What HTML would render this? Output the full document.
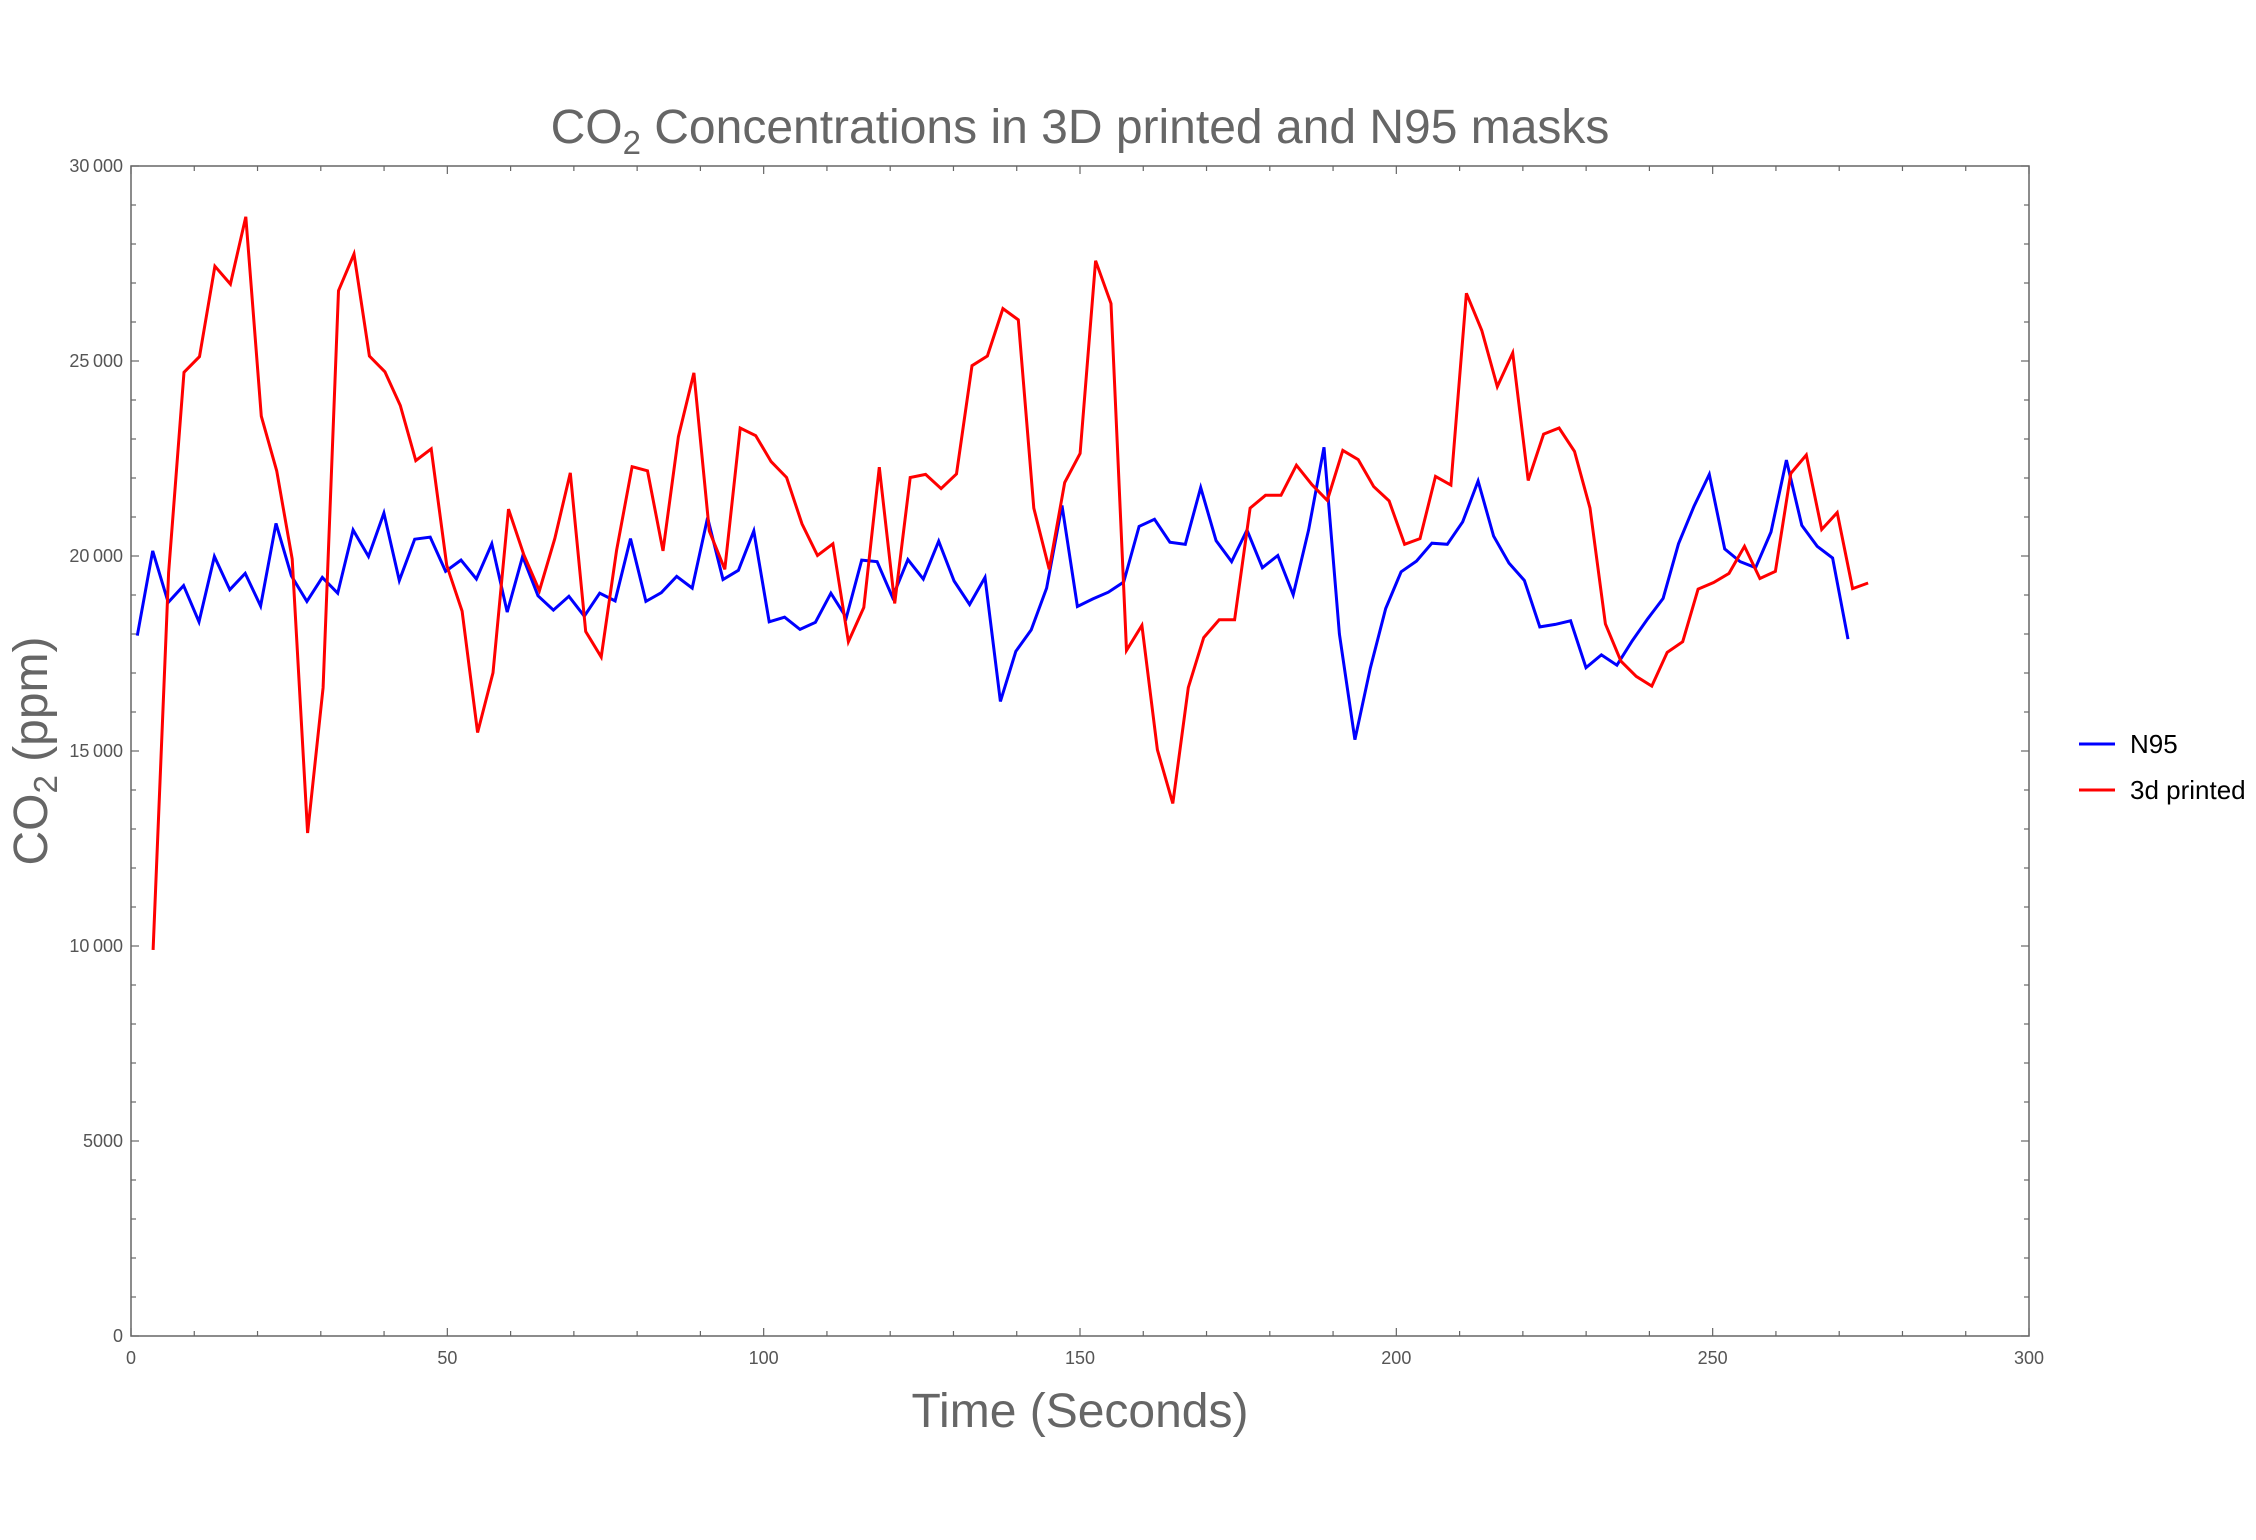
<!DOCTYPE html>
<html><head><meta charset="utf-8"><title>CO2 Concentrations</title>
<style>
html,body{margin:0;padding:0;background:#fff;}
svg{display:block;font-family:"Liberation Sans",Arial,sans-serif;}
</style></head>
<body>
<svg id="chart" width="2256" height="1540" viewBox="0 0 2256 1540" xmlns="http://www.w3.org/2000/svg">
<rect x="0" y="0" width="2256" height="1540" fill="#fff"/>
<text x="1080" y="143" text-anchor="middle" font-size="48" fill="#666">CO<tspan font-size="33" dy="11">2</tspan><tspan dy="-11"> Concentrations in 3D printed and N95 masks</tspan></text>
<text x="1080" y="1427" text-anchor="middle" font-size="48" fill="#666">Time (Seconds)</text>
<text transform="translate(47,751) rotate(-90)" text-anchor="middle" font-size="48" fill="#666">CO<tspan font-size="33" dy="10">2</tspan><tspan dy="-10"> (ppm)</tspan></text>
<g id="axes"></g>
<g id="series"></g>
<g id="legend">
  <g>
    <line x1="2079" y1="744" x2="2115" y2="744" stroke="#0000ff" stroke-width="3"/>
    <text x="2130" y="753" font-size="26" fill="#000">N95</text>
  </g>
  <g>
    <line x1="2079" y1="790" x2="2115" y2="790" stroke="#ff0000" stroke-width="3"/>
    <text x="2130" y="799" font-size="26" fill="#000">3d printed</text>
  </g>
</g>
</svg>
<script>
const n95Start = 1, n95Step = 2.436;
const printedStart = 3.5, printedStep = 2.442;
const n95Values = [17960,20131,18810,19241,18313,19987,19137,19555,18718,20837,19490,18836,19451,19045,20667,19987,21099,19372,20432,20484,19608,19895,19411,20314,18561,19987,18980,18614,18967,18457,19045,18849,20445,18836,19058,19477,19176,20981,19398,19634,20641,18313,18431,18117,18300,19045,18418,19895,19856,18941,19908,19411,20379,19359,18757,19451,16272,17554,18104,19176,21295,18705,18901,19071,19333,20759,20942,20353,20301,21753,20392,19856,20667,19699,20013,19006,20667,22786,17999,15291,17122,18653,19594,19869,20327,20301,20876,21923,20510,19817,19372,18182,18247,18339,17136,17463,17201,17829,18391,18914,20314,21269,22093,20183,19856,19699,20615,22459,20785,20249,19948,17868];
const printedValues = [9900,19570,24709,25114,27430,26972,28698,23584,22184,19921,12898,16625,26802,27743,25127,24722,23859,22446,22747,19765,18587,15474,17005,21203,20026,19110,20445,22132,18064,17410,20150,22290,22184,20131,23061,24696,20641,19660,23283,23087,22420,22014,20824,20013,20314,17803,18679,22276,18784,22014,22093,21727,22106,24879,25127,26344,26056,21229,19660,21884,22629,27573,26475,17580,18221,15030,13656,16625,17907,18365,18365,21229,21557,21557,22328,21831,21426,22708,22472,21779,21413,20301,20445,22040,21818,26736,25781,24343,25206,21936,23126,23283,22681,21229,18260,17305,16913,16664,17528,17803,19150,19320,19555,20249,19424,19608,22119,22590,20680,21112,19163,19307];
const xTickLabels = ["0","50","100","150","200","250","300"];
const yTickLabels = ["0","5000","10\u2009000","15\u2009000","20\u2009000","25\u2009000","30\u2009000"];

const NS = "http://www.w3.org/2000/svg";
const L = 131, R = 2029, T = 166, B = 1336;
const xMax = 300, yMax = 30000;
function sx(t){ return L + (t / xMax) * (R - L); }
function sy(v){ return B - (v / yMax) * (B - T); }
function mk(tag, attrs, parent){ const e = document.createElementNS(NS, tag); for (const k in attrs) e.setAttribute(k, attrs[k]); parent.appendChild(e); return e; }

const axes = document.getElementById('axes');
const frame = mk('rect', {x:L, y:T, width:R-L, height:B-T, fill:'none', stroke:'#666', 'stroke-width':1.5}, axes);


for (let t = 0; t <= xMax; t += 10) {
  const major = t % 50 === 0, len = major ? 8 : 5, x = sx(t);
  const tb = mk('line', {x1:x, y1:B, x2:x, y2:B-len, stroke:'#666', 'stroke-width':1.2}, axes);
  
  
  const tt = mk('line', {x1:x, y1:T, x2:x, y2:T+len, stroke:'#666', 'stroke-width':1.2}, axes);
  
  
  if (major) {
    const lab = mk('text', {x:x, y:B+28, 'text-anchor':'middle', 'font-size':18, fill:'#555'}, axes);
    lab.textContent = xTickLabels[t / 50];
    
    
  }
}
for (let v = 0; v <= yMax; v += 1000) {
  const major = v % 5000 === 0, len = major ? 8 : 5, y = sy(v);
  const tl = mk('line', {x1:L, y1:y, x2:L+len, y2:y, stroke:'#666', 'stroke-width':1.2}, axes);
  
  
  const tr = mk('line', {x1:R, y1:y, x2:R-len, y2:y, stroke:'#666', 'stroke-width':1.2}, axes);
  
  
  if (major) {
    const lab = mk('text', {x:L-8, y:y+6, 'text-anchor':'end', 'font-size':18, fill:'#555'}, axes);
    lab.textContent = yTickLabels[v / 5000];
    
    
  }
}

const series = document.getElementById('series');
function drawLine(vals, start, step, color, name){
  const pts = vals.map((v, i) => sx(start + i * step).toFixed(1) + ',' + sy(v).toFixed(1)).join(' ');
  const p = mk('polyline', {points:pts, fill:'none', stroke:color, 'stroke-width':3, 'stroke-linejoin':'miter', 'stroke-miterlimit':4}, series);
  
  
}
drawLine(n95Values, n95Start, n95Step, '#0000ff', 'n95-line');
drawLine(printedValues, printedStart, printedStep, '#ff0000', '3d-printed-line');
</script>
</body></html>
